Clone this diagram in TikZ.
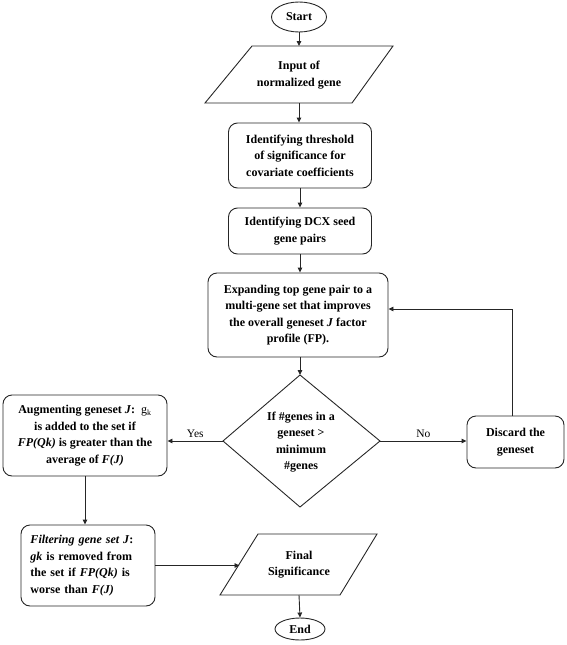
\documentclass[tikz,border=0pt]{standalone}
\usepackage{fontspec}
\setmainfont{Liberation Serif}
\usetikzlibrary{shapes.geometric,arrows.meta}
\tikzset{
  ln/.style={draw=black!85, line width=0.9pt},
  arr/.style={ln, -{Triangle[length=5pt,width=4.5pt]}},
  txt/.style={font=\fontsize{12}{16.5}\selectfont\bfseries, align=center, inner sep=0pt},
  rbox/.style={txt, ln, rounded corners=9pt, rectangle},
  oval/.style={txt, ln, ellipse, inner sep=0pt},
  lbl/.style={font=\fontsize{11.5}{13}\selectfont, inner sep=1pt}
}
\begin{document}
\begin{tikzpicture}[x=1pt,y=-1pt]
\useasboundingbox (0,0) rectangle (567,645);
% Start
\node[oval, minimum width=55pt, minimum height=30pt] (start) at (299,17) {Start};
% Input parallelogram
\coordinate (inA) at (252,46); \coordinate (inB) at (393,46);
\coordinate (inC) at (352,103); \coordinate (inD) at (205,103);
\draw[ln] (inA) -- (inB) -- (inC) -- (inD) -- cycle;
\node[txt] (input) at (299,75) {Input of\\normalized gene};
\coordinate (inTop) at (299,46); \coordinate (inBot) at (299,103);
% Threshold
\node[rbox, minimum width=143pt, minimum height=65pt] (thresh) at (300,155.5)
  {Identifying threshold\\of significance for\\covariate coefficients};
% DCX
\node[rbox, minimum width=143pt, minimum height=46pt] (dcx) at (300,231)
  {Identifying DCX seed\\gene pairs};
% Expand
\node[rbox, minimum width=180pt, minimum height=84pt] (expand) at (298,315)
  {Expanding top gene pair to a\\multi-gene set that improves\\the overall geneset \textit{J} factor\\profile (FP).};
% Decision diamond
\coordinate (decT) at (300,375); \coordinate (decR) at (380,441);
\coordinate (decB) at (300,507); \coordinate (decL) at (223,441);
\draw[ln] (decT) -- (decR) -- (decB) -- (decL) -- cycle;
\node[txt] (dec) at (301,442) {If \#genes in a\\geneset >\\minimum\\\#genes};
% Augmenting
\node[rbox, minimum width=164pt, minimum height=81pt] (aug) at (85,435.5)
  {Augmenting geneset \textit{J}:\ \ \textmd{g\textsubscript{k}}\\is added to the set if\\\textit{FP(Qk)} is greater than the\\average of \textit{F(J)}};
% Discard
\node[rbox, minimum width=97pt, minimum height=52pt] (discard) at (515.5,442)
  {Discard the\\geneset};
% Filtering
\node[rbox, minimum width=134pt, minimum height=81pt, align=left, text width=115pt] (filter) at (88,565.5)
  {\textit{Filtering gene set J}:\\\textit{gk} is removed from\\the set if \textit{FP(Qk)} is\\worse than \textit{F(J)}};
% Final parallelogram
\coordinate (fA) at (258,534); \coordinate (fB) at (377,534);
\coordinate (fC) at (340,595); \coordinate (fD) at (220,595);
\draw[ln] (fA) -- (fB) -- (fC) -- (fD) -- cycle;
\node[txt] (final) at (299,564.5) {Final\\Significance};
\coordinate (fTop) at (299,534); \coordinate (fBot) at (299,595);
\coordinate (fLeft) at (239.5,565.5);
% End
\node[oval, minimum width=50pt, minimum height=22pt] (endn) at (300,629) {End};
% Loop coordinates
\coordinate (loopB) at (512,416);
\coordinate (loopT) at (512,309);
% Connectors
\draw[arr] (start.south) -- (inTop);
\draw[arr] (inBot) -- (inBot |- thresh.north);
\draw[arr] (thresh.south) -- (dcx.north);
\draw[arr] (dcx.south) -- (dcx.south |- expand.north);
\draw[arr] (expand.south -| decT) -- (decT);
\draw[arr] (decL) -- (decL -| aug.east) node[lbl, midway, above=2pt] {Yes};
\draw[arr] (decR) -- (decR -| discard.west) node[lbl, midway, above=2pt] {No};
\draw[arr] (loopB) -- (loopT) -- (loopT -| expand.east);
\draw[arr] (aug.south) -- (aug.south |- filter.north);
\draw[arr] (filter.east) -- (fLeft);
\draw[arr] (fBot) -- (endn.north);
\end{tikzpicture}
\end{document}
